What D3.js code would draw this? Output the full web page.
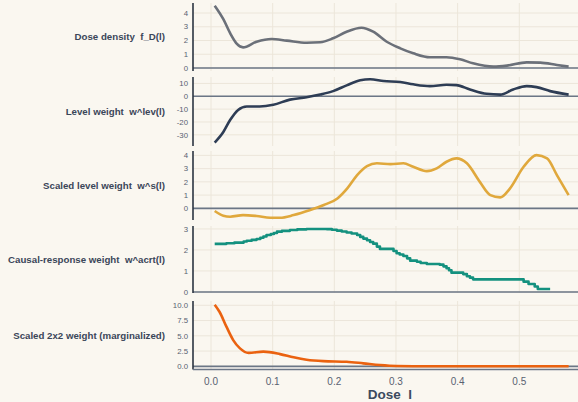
<!doctype html>
<html>

<head>
    <meta charset="utf-8">
    <style>
        body {
            margin: 0;
            background: #faf7f0;
        }

        text {
            font-family: "Liberation Sans", Arial, sans-serif;
            white-space: pre;
        }

        .grid line {
            stroke: #ece6da;
            stroke-width: 1px;
        }

        .tick-label {
            font-size: 7.8px;
            fill: #596271;
            text-anchor: end;
        }

        .panel-label {
            font-size: 9.7px;
            font-weight: bold;
            fill: #3a4659;
            text-anchor: end;
        }
    </style>
    <script src="https://d3js.org/d3.v7.min.js"></script>
</head>

<body>
    <script>
        // dose density f_D(l)
        const densDose = [0.006, 0.020, 0.032, 0.042, 0.052, 0.074, 0.098, 0.123, 0.155, 0.177, 0.198, 0.220, 0.244, 0.263, 0.285, 0.307, 0.328, 0.355, 0.382, 0.404, 0.425, 0.458, 0.480, 0.512, 0.534, 0.561, 0.580]
        const densVal = [4.53, 3.55, 2.45, 1.75, 1.50, 1.91, 2.11, 1.99, 1.84, 1.87, 2.16, 2.64, 2.93, 2.64, 1.91, 1.43, 1.07, 0.78, 0.78, 0.63, 0.34, 0.10, 0.17, 0.41, 0.39, 0.22, 0.10]

        // level weight w^lev(l)
        const levDose = [0.006, 0.020, 0.031, 0.044, 0.058, 0.079, 0.101, 0.128, 0.155, 0.177, 0.198, 0.220, 0.242, 0.258, 0.280, 0.307, 0.328, 0.355, 0.382, 0.398, 0.420, 0.447, 0.469, 0.490, 0.512, 0.528, 0.550, 0.580]
        const levVal = [-36, -27.8, -18.5, -10.6, -7.9, -7.9, -6.6, -2.6, -0.8, 1.3, 4.0, 8.5, 12.5, 13.3, 11.9, 11.1, 9.3, 7.9, 9.0, 8.7, 5.3, 1.9, 1.3, 5.3, 7.9, 7.1, 4.0, 1.3]

        // scaled level weight w^s(l)
        const sDose = [0.006, 0.020, 0.031, 0.052, 0.074, 0.096, 0.112, 0.134, 0.161, 0.183, 0.205, 0.221, 0.237, 0.253, 0.269, 0.291, 0.312, 0.328, 0.350, 0.366, 0.382, 0.398, 0.415, 0.436, 0.453, 0.469, 0.485, 0.507, 0.528, 0.545, 0.561, 0.580]
        const sVal = [-0.20, -0.56, -0.63, -0.51, -0.58, -0.71, -0.71, -0.51, -0.13, 0.25, 0.75, 1.51, 2.51, 3.19, 3.40, 3.34, 3.40, 3.14, 2.81, 3.02, 3.52, 3.77, 3.40, 2.0, 1.0, 0.83, 1.51, 3.14, 4.02, 3.77, 2.51, 1.0]

        // causal-response weight w^acrt(l), step function
        const acrtDose = [0.006, 0.025, 0.038, 0.047, 0.053, 0.058, 0.066, 0.074, 0.080, 0.085, 0.090, 0.097, 0.102, 0.107, 0.115, 0.128, 0.140, 0.155, 0.188, 0.196, 0.204, 0.212, 0.220, 0.228, 0.237, 0.242, 0.247, 0.253, 0.258, 0.263, 0.269, 0.274, 0.296, 0.301, 0.306, 0.312, 0.318, 0.323, 0.334, 0.340, 0.350, 0.371, 0.377, 0.382, 0.386, 0.390, 0.409, 0.415, 0.420, 0.425, 0.507, 0.515, 0.525, 0.530, 0.534, 0.550]
        const acrtVal = [2.29, 2.32, 2.35, 2.35, 2.40, 2.44, 2.48, 2.52, 2.58, 2.64, 2.71, 2.76, 2.81, 2.87, 2.91, 2.95, 2.98, 3.0, 2.99, 2.96, 2.92, 2.88, 2.83, 2.78, 2.71, 2.62, 2.54, 2.46, 2.38, 2.30, 2.16, 2.05, 1.95, 1.84, 1.78, 1.71, 1.60, 1.49, 1.44, 1.38, 1.33, 1.30, 1.22, 1.13, 1.03, 0.92, 0.85, 0.75, 0.68, 0.60, 0.49, 0.38, 0.26, 0.14, 0.14, 0.14]

        // scaled 2x2 weight (marginalized)
        const mDose = [0.006, 0.014, 0.025, 0.036, 0.047, 0.061, 0.085, 0.112, 0.134, 0.155, 0.182, 0.220, 0.247, 0.274, 0.301, 0.328, 0.380, 0.450, 0.520, 0.580]
        const mVal = [10.1, 8.9, 6.5, 4.3, 2.94, 2.2, 2.4, 2.0, 1.47, 1.08, 0.85, 0.75, 0.49, 0.21, 0.05, 0.02, 0.01, 0.01, 0.01, 0.01]

        const xTicks = [0.0, 0.1, 0.2, 0.3, 0.4, 0.5]

        const intFmt = d => String(d)
        const panels = [
            { label: "Dose density  f_D(l)", x: densDose, y: densVal, color: "#6b7079", top: 3, bottom: 71, domain: [-0.22, 4.73], ticks: [0, 1, 2, 3, 4], fmt: intFmt, curve: d3.curveMonotoneX },
            { label: "Level weight  w^lev(l)", x: levDose, y: levVal, color: "#2e3d55", top: 77, bottom: 146, domain: [-38.7, 15], ticks: [-30, -20, -10, 0, 10], fmt: intFmt, curve: d3.curveMonotoneX },
            { label: "Scaled level weight  w^s(l)", x: sDose, y: sVal, color: "#e0a83c", top: 151, bottom: 220, domain: [-0.88, 4.33], ticks: [0, 1, 2, 3, 4], fmt: intFmt, curve: d3.curveMonotoneX },
            { label: "Causal-response weight  w^acrt(l)", x: acrtDose, y: acrtVal, color: "#14917f", top: 226, bottom: 293, domain: [-0.05, 3.14], ticks: [0, 1, 2, 3], fmt: intFmt, curve: d3.curveStepAfter },
            { label: "Scaled 2x2 weight (marginalized)", x: mDose, y: mVal, color: "#ea6210", top: 301, bottom: 369.5, domain: [-0.52, 10.7], ticks: [0, 2.5, 5, 7.5, 10], fmt: d => d.toFixed(1), curve: d3.curveMonotoneX },
        ]

        const W = 578, H = 402
        const left = 193

        const svg = d3.select("body").append("svg")
            .attr("width", W)
            .attr("height", H)

        svg.append("rect").attr("width", W).attr("height", H).attr("fill", "#faf7f0")

        const x = d3.scaleLinear().domain([0, 0.5]).range([211, 519.3])

        panels.forEach(p => {
            const y = d3.scaleLinear().domain(p.domain).range([p.bottom, p.top])
            const g = svg.append("g")

            // grid
            const grid = g.append("g").attr("class", "grid")
            grid.selectAll("line.v").data(xTicks).enter().append("line")
                .attr("class", "v")
                .attr("x1", d => x(d)).attr("x2", d => x(d))
                .attr("y1", p.top).attr("y2", p.bottom)
            grid.selectAll("line.h").data(p.ticks).enter().append("line")
                .attr("class", "h")
                .attr("x1", left).attr("x2", W)
                .attr("y1", d => y(d)).attr("y2", d => y(d))

            // zero line
            g.append("line")
                .attr("x1", left).attr("x2", W)
                .attr("y1", y(0)).attr("y2", y(0))
                .attr("stroke", "#6b7686").attr("stroke-width", 1.6)

            // tick labels
            g.selectAll("text.tick-label").data(p.ticks).enter().append("text")
                .attr("class", "tick-label")
                .attr("x", 188)
                .attr("y", d => y(d))
                .attr("dy", "0.35em")
                .text(d => p.fmt(d))

            // series
            const pts = p.x.map((d, i) => [d, p.y[i]])
            g.append("path")
                .datum(pts)
                .attr("fill", "none")
                .attr("stroke", p.color)
                .attr("stroke-width", 2.6)
                .attr("stroke-linejoin", "round")
                .attr("d", d3.line().x(d => x(d[0])).y(d => y(d[1])).curve(p.curve))

            // left axis line
            g.append("line")
                .attr("x1", left).attr("x2", left)
                .attr("y1", p.top).attr("y2", p.bottom)
                .attr("stroke", "#2b3442").attr("stroke-width", 1.6)

            // panel label
            g.append("text")
                .attr("class", "panel-label")
                .attr("x", 165)
                .attr("y", (p.top + p.bottom) / 2)
                .attr("dy", "0.35em")
                .text(p.label)
        })

        // bottom axis line
        svg.append("line")
            .attr("x1", left).attr("x2", W)
            .attr("y1", 369.5).attr("y2", 369.5)
            .attr("stroke", "#6b7686").attr("stroke-width", 1.4)

        svg.selectAll("text.xtick").data(xTicks).enter().append("text")
            .attr("class", "xtick")
            .attr("x", d => x(d))
            .attr("y", 381)
            .attr("dy", "0.35em")
            .attr("text-anchor", "middle")
            .attr("font-size", "10px")
            .attr("fill", "#596271")
            .text(d => d.toFixed(1))

        svg.append("text")
            .attr("x", 390)
            .attr("y", 399)
            .attr("text-anchor", "middle")
            .attr("font-size", "13.5px")
            .attr("font-weight", "bold")
            .attr("fill", "#3b4a5e")
            .text("Dose  l")
    </script>
</body>

</html>
